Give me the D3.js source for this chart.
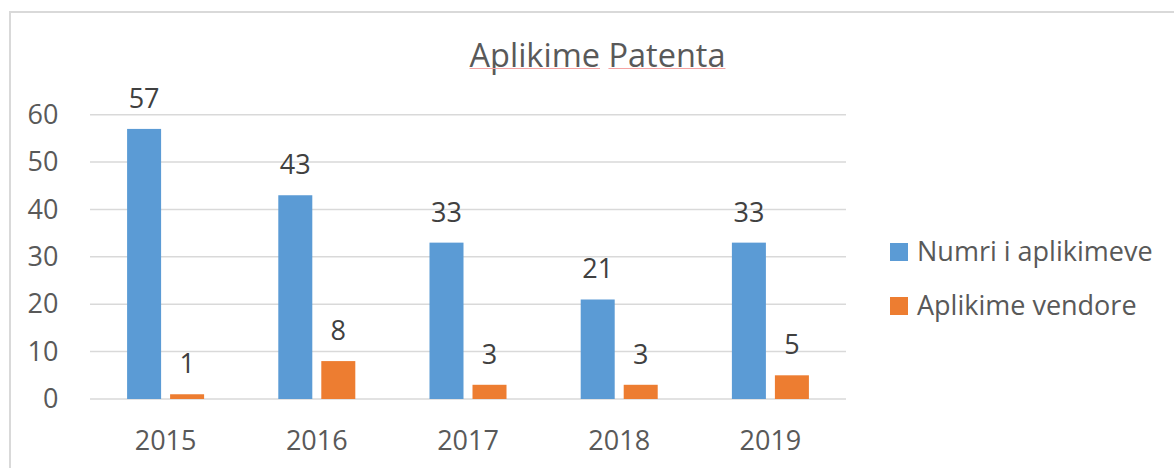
<!DOCTYPE html>
<html>
<head>
<meta charset="utf-8">
<script src="https://cdn.jsdelivr.net/npm/d3@7"></script>
<style>
  html, body { margin: 0; padding: 0; background: #ffffff; }
  svg { display: block; }
  text { font-family: "Open Sans", "Noto Sans", sans-serif; }
</style>
</head>
<body>
<svg id="chart" width="1174" height="468"></svg>
<script>
const categories = ["2015", "2016", "2017", "2018", "2019"];
const seriesNames = ["Numri i aplikimeve", "Aplikime vendore"];
const numriAplikimeve = [57, 43, 33, 21, 33];
const aplikimeVendore = [1, 8, 3, 3, 5];
const yTicks = [0, 10, 20, 30, 40, 50, 60];
const titleText = "Aplikime Patenta";
const colors = ["#5b9bd5", "#ed7d31"];

const seriesValues = [numriAplikimeve, aplikimeVendore];

const svg = d3.select("#chart");
const W = 1174, H = 468;
const plot = { left: 90, right: 846, top: 114.7, bottom: 399 };

// chart border
svg.append("rect")
  .attr("x", 10).attr("y", 12)
  .attr("width", 1175).attr("height", 470)
  .attr("fill", "none").attr("stroke", "#d9d9d9").attr("stroke-width", 2);

const x = d3.scaleBand().domain(categories).range([plot.left, plot.right]).paddingInner(0).paddingOuter(0);
const x1 = d3.scaleBand().domain(seriesNames).range([0, x.bandwidth()]).paddingInner(9 / 43).paddingOuter(0.8625);
const y = d3.scaleLinear().domain([0, 60]).range([plot.bottom, plot.top]);

// gridlines
svg.append("g").selectAll("line").data(yTicks).join("line")
  .attr("x1", plot.left).attr("x2", plot.right)
  .attr("y1", d => y(d)).attr("y2", d => y(d))
  .attr("stroke", "#d9d9d9").attr("stroke-width", 1.5);

// y axis labels
const yAxis = d3.axisLeft(y).tickValues(yTicks).tickSize(0).tickPadding(0).tickFormat(d3.format("d"));
const gy = svg.append("g").attr("transform", `translate(58.5,0)`).call(yAxis);
gy.select(".domain").remove();
gy.selectAll("text").attr("font-size", 27).attr("fill", "#595959")
  .attr("font-family", '"Open Sans", "Noto Sans", sans-serif');

// x axis labels
const xAxis = d3.axisBottom(x).tickSize(0).tickPadding(0);
const gx = svg.append("g").attr("transform", `translate(0,${plot.bottom})`).call(xAxis);
gx.select(".domain").remove();
gx.selectAll("text").attr("font-size", 27).attr("fill", "#595959")
  .attr("dy", null).attr("y", 51)
  .attr("font-family", '"Open Sans", "Noto Sans", sans-serif');

// bars
const rows = categories.map((c, i) => ({ cat: c, vals: seriesNames.map((s, j) => ({ s, j, v: seriesValues[j][i] })) }));
const groups = svg.append("g").selectAll("g").data(rows).join("g")
  .attr("transform", d => `translate(${x(d.cat)},0)`);
groups.selectAll("rect").data(d => d.vals).join("rect")
  .attr("x", d => x1(d.s)).attr("width", x1.bandwidth())
  .attr("y", d => y(d.v)).attr("height", d => y(0) - y(d.v))
  .attr("fill", d => colors[d.j]);
groups.selectAll("text").data(d => d.vals).join("text")
  .attr("x", d => x1(d.s) + x1.bandwidth() / 2)
  .attr("y", d => y(d.v) - 21)
  .attr("text-anchor", "middle")
  .attr("font-size", 27).attr("fill", "#404040")
  .text(d => d.v);

// title
const title = svg.append("text")
  .attr("x", 597.5).attr("y", 66.7)
  .attr("text-anchor", "middle")
  .attr("font-size", 32.5).attr("fill", "#595959")
  .text(titleText);
// spell-check underline under each word
const tnode = title.node();
const totalW = tnode.getComputedTextLength();
const startX = 597.5 - totalW / 2;
const words = titleText.split(" ");
let idx = 0;
words.forEach(w => {
  const sx = startX + (idx > 0 ? tnode.getSubStringLength(0, idx) : 0);
  const ww = tnode.getSubStringLength(idx, w.length);
  svg.append("line")
    .attr("x1", sx).attr("x2", sx + ww)
    .attr("y1", 68.5).attr("y2", 68.5)
    .attr("stroke", "#f4a3a3").attr("stroke-width", 1);
  idx += w.length + 1;
});

// legend
const legend = svg.append("g").selectAll("g").data(seriesNames).join("g")
  .attr("transform", (d, i) => `translate(890,${243 + i * 54})`);
legend.append("rect").attr("width", 18).attr("height", 18).attr("fill", (d, i) => colors[i]);
legend.append("text").attr("x", 27).attr("y", 18)
  .attr("font-size", 27).attr("fill", "#595959").text(d => d);
</script>
</body>
</html>
